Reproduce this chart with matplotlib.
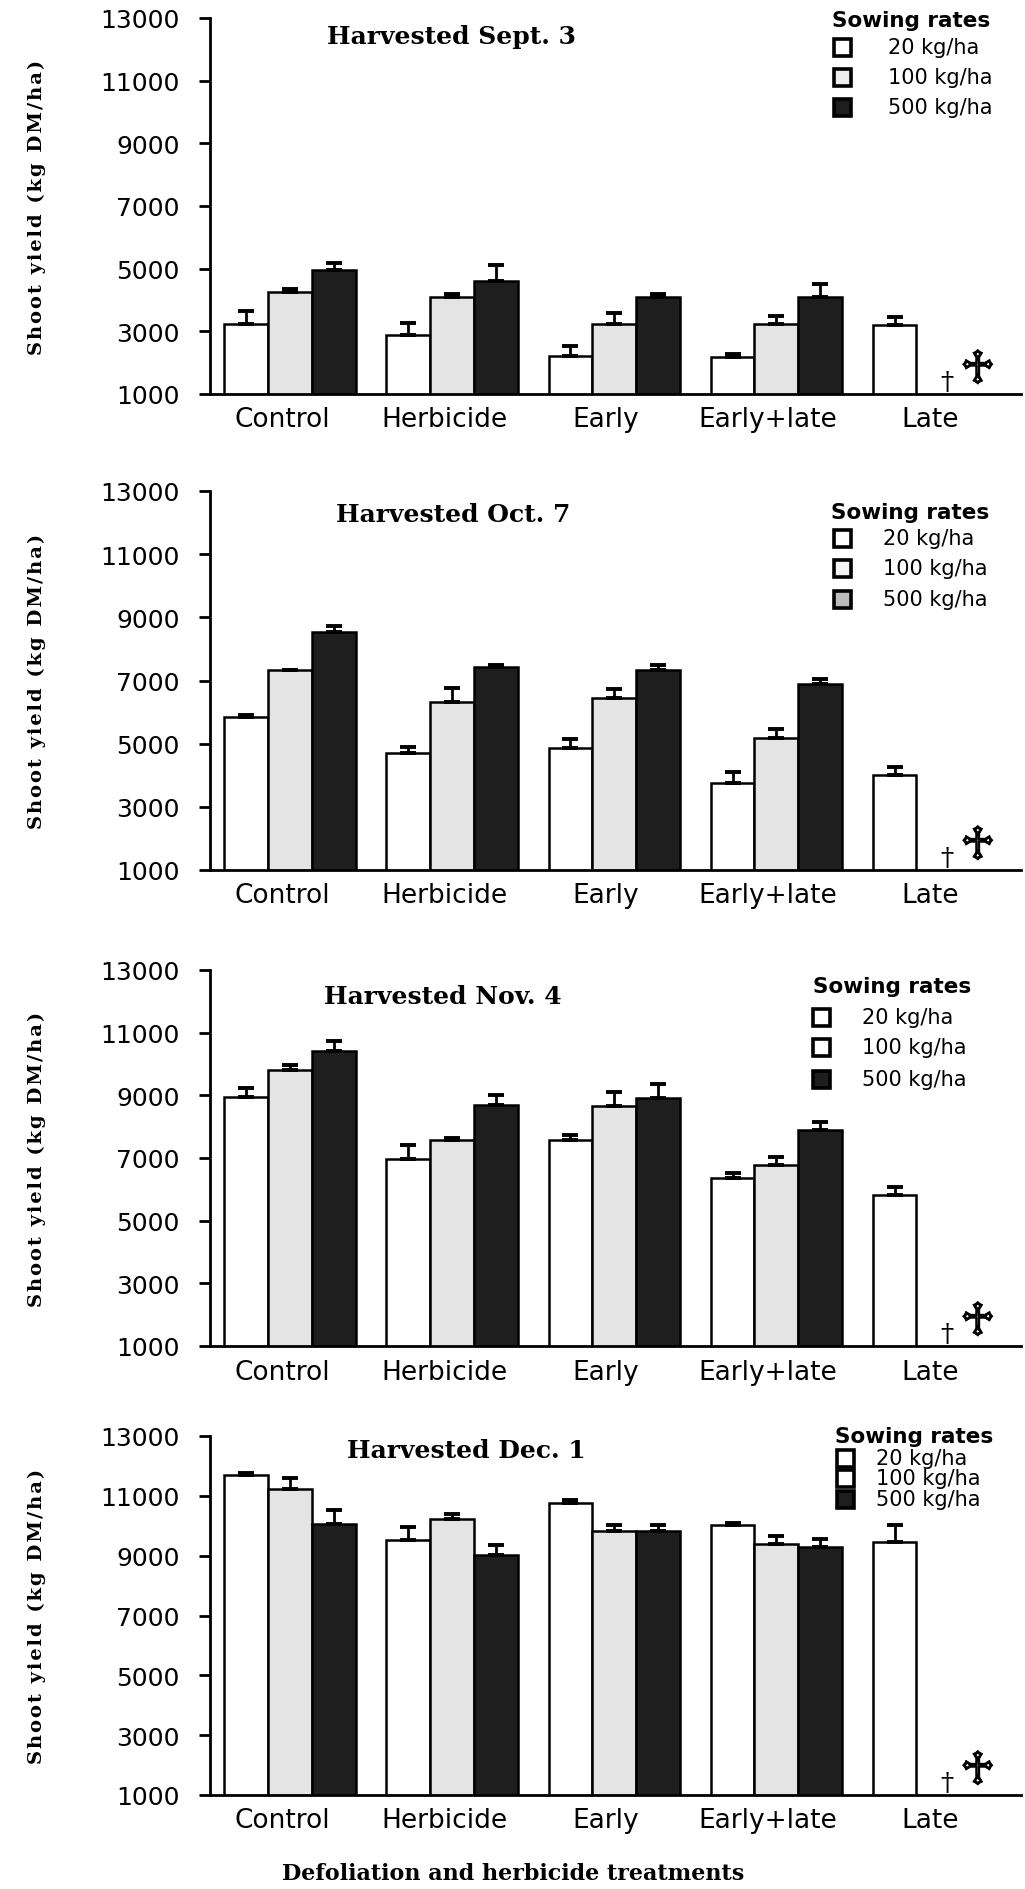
# Shoot yield by defoliation / herbicide treatment, four harvest dates
import numpy as np
import matplotlib.pyplot as plt
import matplotlib.patheffects as pe
from matplotlib.patches import Rectangle

treatments = ['Control', 'Herbicide', 'Early', 'Early+late', 'Late']
rates = ['20 kg/ha', '100 kg/ha', '500 kg/ha']
harvests = ['Harvested Sept. 3', 'Harvested Oct. 7', 'Harvested Nov. 4', 'Harvested Dec. 1']
nan = np.nan

# mean shoot yield (kg DM/ha) per sowing rate; nan = plants died (dagger)
sep_20 = [3230, 2890, 2200, 2180, 3210]
sep_100 = [4270, 4100, 3230, 3230, nan]
sep_500 = [4960, 4620, 4100, 4100, nan]
oct_20 = [5830, 4710, 4850, 3750, 4010]
oct_100 = [7330, 6310, 6460, 5190, nan]
oct_500 = [8530, 7430, 7330, 6890, nan]
nov_20 = [8950, 6980, 7570, 6360, 5820]
nov_100 = [9810, 7580, 8650, 6780, nan]
nov_500 = [10430, 8690, 8930, 7900, nan]
dec_20 = [11680, 9510, 10760, 10010, 9450]
dec_100 = [11240, 10230, 9840, 9375, nan]
dec_500 = [10070, 9010, 9840, 9290, nan]

# standard errors (upper bars only)
sep_20_se = [420, 360, 340, 90, 250]
sep_100_se = [85, 85, 340, 270, nan]
sep_500_se = [235, 500, 85, 415, nan]
oct_20_se = [70, 190, 300, 340, 240]
oct_100_se = [0, 440, 260, 270, nan]
oct_500_se = [180, 55, 155, 160, nan]
nov_20_se = [280, 425, 160, 170, 255]
nov_100_se = [170, 45, 450, 255, nan]
nov_500_se = [300, 330, 425, 235, nan]
dec_20_se = [90, 445, 90, 80, 560]
dec_100_se = [360, 170, 170, 280, nan]
dec_500_se = [445, 335, 170, 255, nan]

means = [[sep_20, sep_100, sep_500], [oct_20, oct_100, oct_500],
         [nov_20, nov_100, nov_500], [dec_20, dec_100, dec_500]]
errs = [[sep_20_se, sep_100_se, sep_500_se], [oct_20_se, oct_100_se, oct_500_se],
        [nov_20_se, nov_100_se, nov_500_se], [dec_20_se, dec_100_se, dec_500_se]]

W, H = 1025, 1890
bar_colors = ['white', '#e4e4e4', '#1e1e1e']
# legend swatch fills differ a little between panels in the original
legend_fills = [['white', '#eeeeee', '#1e1e1e'],
                ['white', '#f4f4f4', '#bbbbbb'],
                ['white', 'white', '#1e1e1e'],
                ['white', 'white', '#1e1e1e']]

# axes boxes in pixels: (top, bottom)
panels_px = [(19, 395), (492, 871), (971, 1347), (1437, 1796)]
ax_left, ax_right = 210, 1021
title_x = [0.298, 0.30, 0.287, 0.316]
title_y = [0.952, 0.94, 0.93, 0.96]
# legend layout in pixels: title left, title y, swatch left, label left, row ys
legend_px = [(832, 21, 834, 888, [48, 78, 108]),
             (831, 513, 834, 883, [539, 569, 600]),
             (813, 987, 813, 862, [1018, 1048, 1080]),
             (835, 1437, 837, 876, [1459, 1479, 1500])]
sw = 17

fig = plt.figure(figsize=(W / 100, H / 100), dpi=100)

x = np.arange(len(treatments))
bw = 0.27
offsets = [-bw, 0, bw]
ylab = '\u200a'.join('Shoot yield (kg DM/ha)')

for p in range(4):
    top, bot = panels_px[p]
    ax = fig.add_axes([ax_left / W, 1 - bot / H, (ax_right - ax_left) / W, (bot - top) / H])

    for k in range(3):
        m = np.array(means[p][k], dtype=float)
        e = np.array(errs[p][k], dtype=float)
        ok = ~np.isnan(m)
        ax.bar(x[ok] + offsets[k], m[ok], width=bw, color=bar_colors[k],
               edgecolor='black', linewidth=1.8, zorder=2)
        ax.errorbar(x[ok] + offsets[k], m[ok], yerr=[np.zeros(ok.sum()), e[ok]],
                    fmt='none', ecolor='black', elinewidth=2, capsize=5.5, capthick=2.8, zorder=3)

    # plants dead at late defoliation for the two higher sowing rates
    late = len(treatments) - 1
    ax.text(late + offsets[1] + 0.05, 1000, '†', ha='center', va='bottom', fontsize=19,
            family='DejaVu Serif', zorder=4)
    ax.text(late + 0.9 * offsets[2], 1000, '♱', ha='center', va='bottom', fontsize=34,
            family='DejaVu Sans', zorder=4,
            path_effects=[pe.withStroke(linewidth=0.7, foreground='black')])

    ax.set_xlim(-0.494, 4.51)
    ax.set_ylim(1000, 13000)
    ax.set_yticks(range(1000, 13001, 2000))
    ax.set_xticks(x - 0.05)
    ax.set_xticklabels(treatments)
    for s in ['top', 'right']:
        ax.spines[s].set_visible(False)
    ax.spines['left'].set_linewidth(2)
    ax.spines['bottom'].set_linewidth(2)
    ax.tick_params(axis='y', direction='out', length=8, width=2, pad=14, labelsize=18)
    ax.tick_params(axis='x', length=0, pad=9, labelsize=19)
    for lab in ax.get_xticklabels() + ax.get_yticklabels():
        lab.set_family('DejaVu Sans')

    ax.text(title_x[p], title_y[p], harvests[p], transform=ax.transAxes,
            ha='center', va='center', family='DejaVu Serif', weight='bold', fontsize=18)

    fig.text(37 / W, 1 - (top + bot) / 2 / H, ylab, rotation=90,
             ha='center', va='center', family='DejaVu Serif', weight='bold', fontsize=14)

    # legend drawn by hand: swatches sit under the title's first letter
    tx, ty, sx, lx, rows = legend_px[p]
    fig.text(tx / W, 1 - ty / H, 'Sowing rates', ha='left', va='center',
             family='DejaVu Sans', weight='bold', fontsize=15.5)
    for k in range(3):
        fig.add_artist(Rectangle((sx / W, 1 - (rows[k] + sw / 2) / H), sw / W, sw / H,
                                 transform=fig.transFigure, facecolor=legend_fills[p][k],
                                 edgecolor='black', linewidth=2.6))
        fig.text(lx / W, 1 - rows[k] / H, rates[k], ha='left', va='center',
                 family='DejaVu Sans', fontsize=15)

fig.text(513 / W, 1 - 1874 / H, 'Defoliation and herbicide treatments', ha='center',
         va='center', family='DejaVu Serif', weight='bold', fontsize=16)

fig.savefig('out.png', dpi=100)
